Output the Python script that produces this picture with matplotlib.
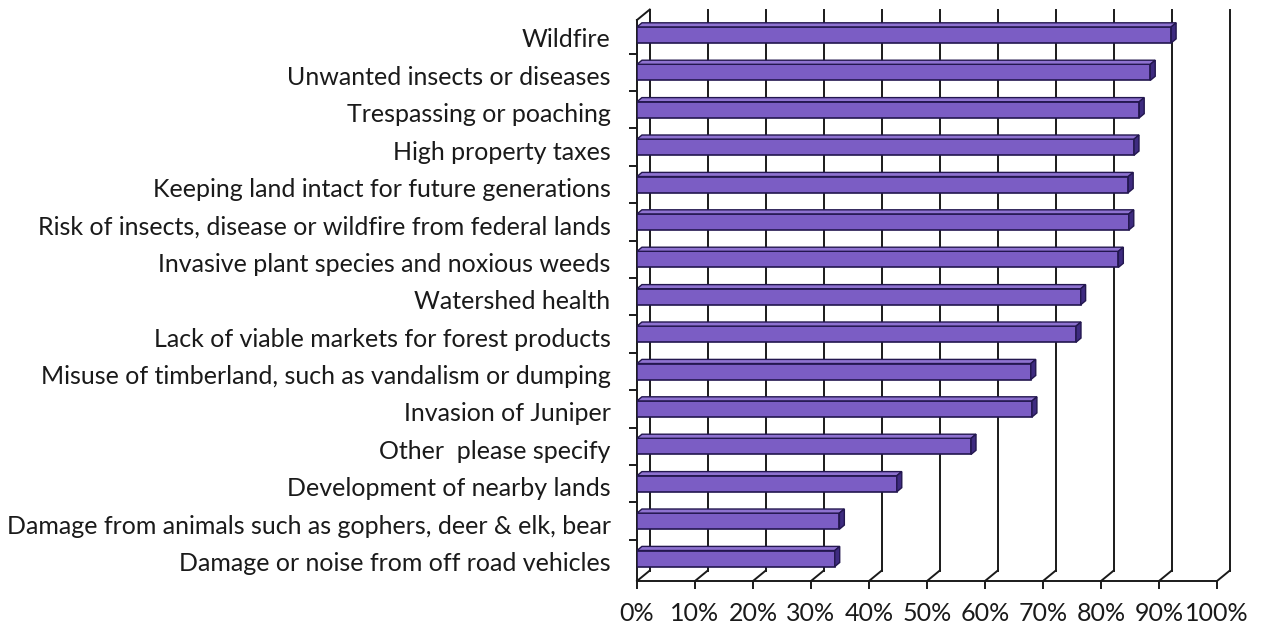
import matplotlib.pyplot as plt
import matplotlib.transforms as mtransforms
import numpy as np
from matplotlib.patches import Polygon

categories = [
    "Wildfire",
    "Unwanted insects or diseases",
    "Trespassing or poaching",
    "High property taxes",
    "Keeping land intact for future generations",
    "Risk of insects, disease or wildfire from federal lands",
    "Invasive plant species and noxious weeds",
    "Watershed health",
    "Lack of viable markets for forest products",
    "Misuse of timberland, such as vandalism or dumping",
    "Invasion of Juniper",
    "Other  please specify",
    "Development of nearby lands",
    "Damage from animals such as gophers, deer & elk, bear",
    "Damage or noise from off road vehicles",
]
values = [92.1, 88.5, 86.6, 85.7, 84.7, 84.8, 83.0, 76.5, 75.7, 67.9, 68.1, 57.6, 44.8, 34.9, 34.1]
xticks = list(range(0, 101, 10))
xticklabels = [f"{t}%" for t in xticks]

plt.rcParams['font.family'] = ['Lato', 'DejaVu Sans']

W, H = 1265, 627
fig = plt.figure(figsize=(W / 100, H / 100), dpi=100)
ax = fig.add_axes([637 / W, (H - 581) / H, 580 / W, (581 - 20) / H])

ytop, ybot = -0.4, 14.6
ax.set_xlim(0, 100)
ax.set_ylim(ybot, ytop)

# depth of the "3d" wall (data units)
dx, dy = 2.2, -0.28
# depth of each bar
bdx, bdy = 0.85, -0.11
h = 0.43

line_kw = dict(color="#1a1a1a", lw=1.4, clip_on=False, zorder=1)

# back wall gridlines and floor diagonals
for t in xticks:
    ax.plot([t + dx, t + dx], [ybot + dy, ytop + dy], **line_kw)
    ax.plot([t, t + dx], [ybot, ybot + dy], **line_kw)
# left wall top edge
ax.plot([0, dx], [ytop, ytop + dy], **line_kw)

# bars with a bit of depth
pos = np.arange(len(categories))
ax.barh(pos, values, height=h, color="#7b5dc4", edgecolor="#23174f", lw=1.2, zorder=3)
for y, v in zip(pos, values):
    top = y - h / 2
    bot = y + h / 2
    ax.add_patch(Polygon([(0, top), (v, top), (v + bdx, top + bdy), (bdx, top + bdy)],
                         closed=True, fc="#8e72d0", ec="#23174f", lw=1.0, zorder=3))
    ax.add_patch(Polygon([(v, top), (v + bdx, top + bdy), (v + bdx, bot + bdy), (v, bot)],
                         closed=True, fc="#3e2b80", ec="#23174f", lw=1.0, zorder=3))

# front axes
for s in ["top", "right"]:
    ax.spines[s].set_visible(False)
for s in ["left", "bottom"]:
    ax.spines[s].set_color("#1a1a1a")
    ax.spines[s].set_linewidth(1.4)

ax.set_xticks(xticks, labels=xticklabels, fontsize=18)
ax.tick_params(axis="x", length=6, width=1.4, pad=9, color="#1a1a1a", labelcolor="#1a1a1a")

ax.set_yticks(np.arange(0.5, 14, 1.0))
ax.set_yticks(pos, labels=categories, minor=True, fontsize=18)
ax.tick_params(axis="y", which="major", length=6, width=1.4, color="#1a1a1a", labelleft=False)
ax.tick_params(axis="y", which="minor", length=0, pad=19, labelcolor="#1a1a1a")
shift = mtransforms.ScaledTranslation(0, -3 / 100, fig.dpi_scale_trans)
for lab in ax.get_yticklabels(minor=True):
    lab.set_va("center_baseline")
    lab.set_transform(lab.get_transform() + shift)

fig.savefig("out.png", dpi=100)
